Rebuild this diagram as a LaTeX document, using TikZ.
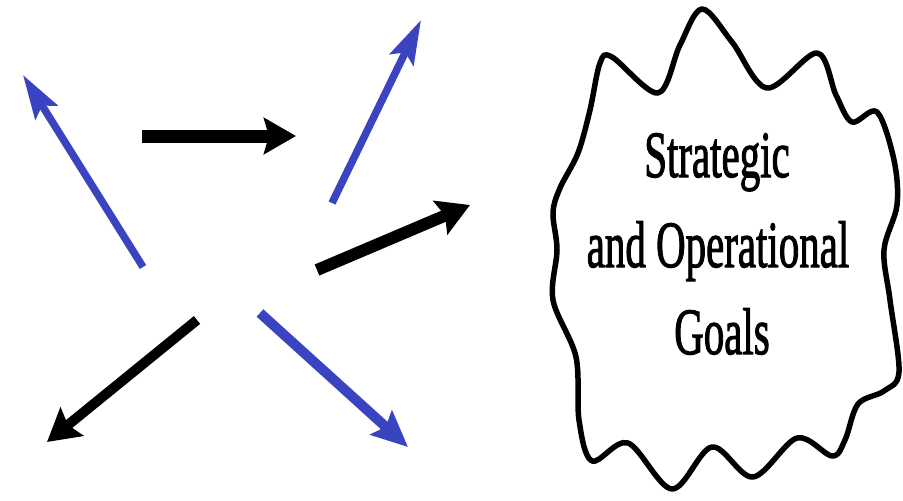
\documentclass[tikz,border=0pt]{standalone}
\usepackage{fontspec}
\setmainfont{Liberation Serif}
\newfontfamily\goalfont{Liberation Serif}[FakeBold=2]
\usetikzlibrary{arrows.meta}
\definecolor{arrowblue}{RGB}{58,68,192}
\tikzset{
  bluearrow/.style={draw=arrowblue, line width=#1, -{Stealth[length=44pt,width=26pt,inset=8pt]}},
  blackarrow/.style={draw=black, line width=#1, -{Stealth[length=32pt,width=36pt,inset=5pt]}},
  goaltext/.style={font=\goalfont\fontsize{66}{88}\selectfont, xscale=0.62, anchor=base, inner sep=0pt},
  blob/.style={draw=black, line width=5.5pt, line join=round}
}
\begin{document}
\begin{tikzpicture}[x=1pt,y=-1pt]
\useasboundingbox (0,0) rectangle (903,501);
% arrow end points
\coordinate (ulT) at (143,267); \coordinate (ulH) at (23,75);
\coordinate (hT) at (142,136);  \coordinate (hH) at (296,136);
\coordinate (urT) at (332,203); \coordinate (urH) at (421,20);
\coordinate (rT) at (317,270);  \coordinate (rH) at (470,205);
\coordinate (llT) at (197,320); \coordinate (llH) at (47,442);
\coordinate (lrT) at (260,313); \coordinate (lrH) at (408,447);
\draw[bluearrow=7.5pt] (ulT) -- (ulH);
\draw[blackarrow=13pt] (hT) -- (hH);
\draw[bluearrow=7.5pt] (urT) -- (urH);
\draw[blackarrow=12pt] (rT) -- (rH);
\draw[blackarrow=10pt] (llT) -- (llH);
\draw[bluearrow=10pt,-{Stealth[length=36pt,width=32pt,inset=6pt]}] (lrT) -- (lrH);
% wavy cloud
\draw[blob] plot[smooth cycle, tension=0.55] coordinates {
 (702,9) (732,42) (767,88) (817,53) (836,95) (852,122) (877,112)
 (894,160) (897,205) (884,250) (890,300) (899,372) (884,391)
 (858,404) (845,440) (832,456) (797,438) (753,477) (712,447)
 (672,489) (628,443) (592,461) (579,420) (576,357) (553,300)
 (557,250) (553,213) (560,188) (578,153) (590,110) (600,63)
 (612,57) (658,93) (680,45)};
% text
\node[goaltext] (t1) at (717,177) {Strategic};
\node[goaltext] (t2) at (718,267) {and Operational};
\node[goaltext] (t3) at (722,354) {Goals};
\end{tikzpicture}
\end{document}
